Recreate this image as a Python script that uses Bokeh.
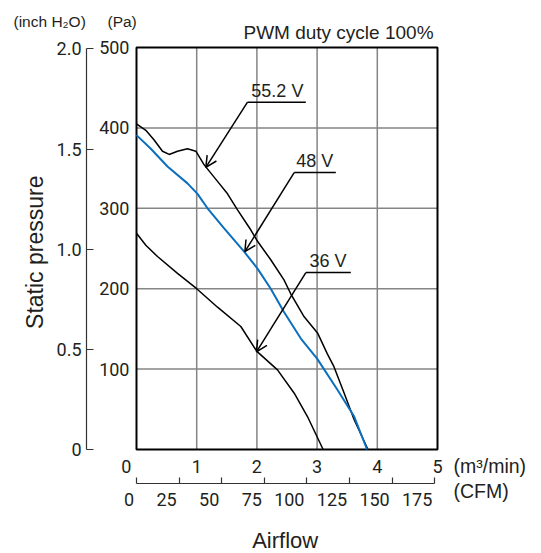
import math
from bokeh.plotting import figure
from bokeh.models import (Range1d, LinearAxis, FixedTicker, Label, Arrow, OpenHead,
                          CustomJSTickFormatter)
from bokeh.embed import file_html
from bokeh.resources import INLINE

# ---- data ----
flow_552 = [0.0, 0.155, 0.293, 0.432, 0.543, 0.681, 0.847, 0.986, 1.124, 1.373, 1.512,
            1.678, 1.9, 2.01, 2.23, 2.45, 2.56, 2.785, 3.007, 3.17, 3.28, 3.45, 3.616, 3.845]
pres_552 = [405, 397, 385, 371, 367, 371, 374, 371, 354, 331, 318,
            298, 273, 259, 236, 211, 194, 165, 145, 119, 103, 70, 37, 0]

flow_48 = [0.0, 0.238, 0.515, 0.847, 1.013, 1.18, 1.456, 1.788, 2.01, 2.23, 2.45,
           2.73, 3.0, 3.34, 3.616, 3.83]
pres_48 = [391, 374, 352, 331, 318, 300, 275, 246, 225, 200, 171,
           138, 113, 74, 41, 0]

flow_36 = [0.0, 0.155, 0.349, 0.681, 1.0, 1.346, 1.733, 2.0, 2.342, 2.62, 2.84, 3.1]
pres_36 = [269, 254, 240, 219, 200, 177, 153, 122, 99, 70, 41, 0]

m3_ticks = [0, 1, 2, 3, 4, 5]
cfm_ticks = [0, 25, 50, 75, 100, 125, 150, 175]
pa_ticks = [100, 200, 300, 400, 500]
inch_ticks = [0, 0.5, 1.0, 1.5, 2.0]

x_lim = [0, 5]        # m3/min shown in the chart box
y_lim = [0, 500]      # Pa shown in the chart box
M3_PER_CFM = 0.0283168
PA_PER_INCH = 249.089

# callouts: text, text centre x, underline x0, x1, underline y, arrow tip x, y
call_text = ["55.2 V", "48 V", "36 V"]
call_tx = [2.34, 2.96, 3.18]
call_x0 = [1.844, 2.619, 2.813]
call_x1 = [2.813, 3.311, 3.56]
call_y = [432, 344.5, 220]
tip_x = [1.152, 1.80, 1.993]
tip_y = [351, 246, 121.5]

TICKF = "Roboto, sans-serif"
TICKS = "18px"
SANS = "'Liberation Sans', Arial, sans-serif"
TXT = "#231f20"
BLUE = "#0b6fbd"
GRID = "#858585"

# whole canvas is the frame; the chart box is drawn from x_lim / y_lim
XR = (-2.2591, 6.7276)
YR = (-129.35, 558.46)

p = figure(width=541, height=553, output_backend="svg", toolbar_location=None,
           x_range=Range1d(*XR), y_range=Range1d(*YR),
           min_border_left=0, min_border_right=0, min_border_top=0, min_border_bottom=0)
p.title.visible = False
p.outline_line_color = None
p.background_fill_color = "white"
p.border_fill_color = "white"
p.xgrid.visible = False
p.ygrid.visible = False


def style_labels(ax, standoff):
    ax.major_label_standoff = standoff
    ax.major_label_text_font = TICKF
    ax.major_label_text_font_size = TICKS
    ax.major_label_text_color = TXT
    ax.minor_tick_line_color = None


# m3/min axis (at y = 0); the "0" is set a little to the left as in the original
xa = p.below[0]
xa.fixed_location = y_lim[0]
xa.ticker = FixedTicker(ticks=m3_ticks)
xa.formatter = CustomJSTickFormatter(
    code="return tick == 0 ? '0\u2007\u2007' : tick.toFixed(0);")
xa.axis_line_color = None
xa.major_tick_line_color = None
xa.major_tick_in = 0
xa.major_tick_out = 0
style_labels(xa, 6)

# Pa axis (at x = 0)
ya = p.left[0]
ya.fixed_location = x_lim[0]
ya.ticker = FixedTicker(ticks=pa_ticks)
ya.axis_line_color = None
ya.major_tick_line_color = None
ya.major_tick_in = 0
ya.major_tick_out = 0
style_labels(ya, 7)

# inch H2O axis
p.extra_y_ranges = {"inch": Range1d(YR[0] / PA_PER_INCH, YR[1] / PA_PER_INCH)}
ia = LinearAxis(y_range_name="inch", ticker=FixedTicker(ticks=inch_ticks), bounds=(0, 2.0),
                fixed_location=-0.8306,
                formatter=CustomJSTickFormatter(code="return tick == 0 ? '0' : tick.toFixed(1);"))
ia.major_tick_in = 7
ia.major_tick_out = 0
ia.axis_line_color = "#333333"
ia.axis_line_width = 1.2
ia.major_tick_line_color = "#333333"
ia.major_tick_line_width = 1.2
style_labels(ia, 5)
p.add_layout(ia, "left")

# CFM axis; its labels sit just left of their ticks as in the original
p.extra_x_ranges = {"cfm": Range1d(XR[0] / M3_PER_CFM, XR[1] / M3_PER_CFM)}
ca = LinearAxis(x_range_name="cfm", ticker=FixedTicker(ticks=cfm_ticks), bounds=(0, 175),
                fixed_location=-42.3,
                formatter=CustomJSTickFormatter(
                    code="const s = tick.toFixed(0); return s + '\u2007'.repeat(s.length) + '\u2008';"))
ca.major_tick_in = 6
ca.major_tick_out = 0
ca.axis_line_color = "#333333"
ca.axis_line_width = 1.2
ca.major_tick_line_color = "#333333"
ca.major_tick_line_width = 1.2
style_labels(ca, 5)
p.add_layout(ca, "below")

# grid lines (from the tick arrays) and chart box
gx = m3_ticks[1:-1]
gy = pa_ticks[:-1]
p.segment(x0=gx, y0=[y_lim[0]] * len(gx), x1=gx, y1=[y_lim[1]] * len(gx),
          line_color=GRID, line_width=1.5)
p.segment(x0=[x_lim[0]] * len(gy), y0=gy, x1=[x_lim[1]] * len(gy), y1=gy,
          line_color=GRID, line_width=1.5)
p.quad(left=[x_lim[0]], right=[x_lim[1]], bottom=[y_lim[0]], top=[y_lim[1]],
       fill_color=None, line_color="black", line_width=2)

# curves
p.line(flow_36, pres_36, line_color="black", line_width=1.5)
p.line(flow_552, pres_552, line_color="black", line_width=1.5)
p.line(flow_48, pres_48, line_color=BLUE, line_width=2)

# callouts
p.segment(x0=call_x0, y0=call_y, x1=call_x1, y1=call_y, line_color="black", line_width=1.5)
for t, tx, x0, y0, ex, ey in zip(call_text, call_tx, call_x0, call_y, tip_x, tip_y):
    p.add_layout(Arrow(x_start=x0, y_start=y0, x_end=ex, y_end=ey, line_color="black",
                       line_width=1.5,
                       end=OpenHead(size=11, line_color="black", line_width=1.5)))
    p.add_layout(Label(x=tx, y=y0 + 14.5, text=t, text_align="center",
                       text_baseline="middle", text_font=SANS, text_font_size="18px",
                       text_color=TXT))


def lab(x, y, text, size, align="left", angle=0.0):
    p.add_layout(Label(x=x, y=y, text=text, text_align=align, text_baseline="middle",
                       text_font=SANS, text_font_size=size, text_color=TXT, angle=angle))


# unit labels, axis titles and note
lab(-2.043, 532.0, "(inch H\u2082O)", "15.5px")
lab(-0.482, 532.0, "(Pa)", "15.5px")
lab(4.934, 518.5, "PWM duty cycle 100%", "19px", align="right")
lab(5.266, -20.0, "(m\u00b3/min)", "19.5px")
lab(5.266, -52.0, "(CFM)", "19.5px")
lab(2.47, -112.6, "Airflow", "22px", align="center")
lab(-1.678, 245.4, "Static pressure", "23px", align="center", angle=math.pi / 2)

open("out.html", "w").write(file_html(p, INLINE))
